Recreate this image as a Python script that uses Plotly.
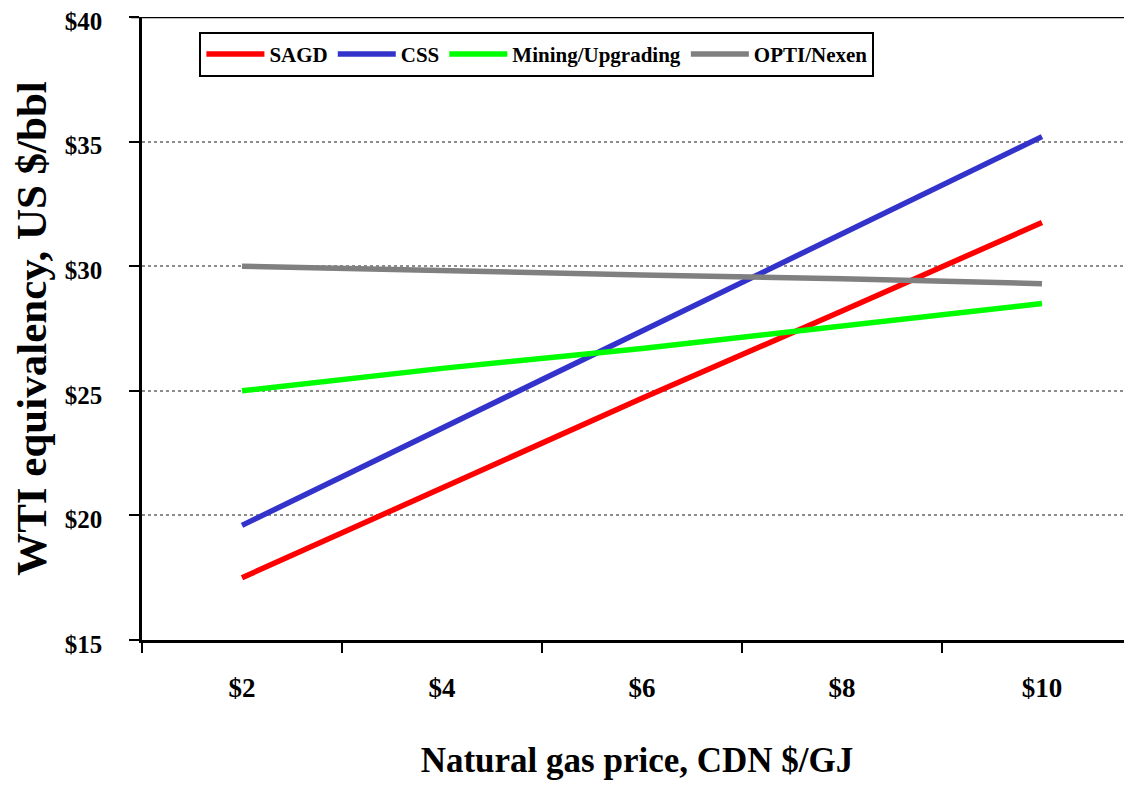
import plotly.graph_objects as go

categories = ["$2", "$4", "$6", "$8", "$10"]
sagd = [17.5, 21.1, 24.7, 28.2, 31.75]
css = [19.6, 23.5, 27.4, 31.3, 35.2]
mining = [25.0, 25.9, 26.7, 27.6, 28.5]
opti = [30.0, 29.8, 29.65, 29.5, 29.3]

series = [
    ("SAGD", sagd, "#FF0000"),
    ("CSS", css, "#3333CC"),
    ("Mining/Upgrading", mining, "#00FF00"),
    ("OPTI/Nexen", opti, "#808080"),
]

y_ticks = [15, 20, 25, 30, 35, 40]
y_ticktext = ["$15", "$20", "$25", "$30", "$35", "$40"]

FONT = "Liberation Serif"

fig = go.Figure()
for name, vals, color in series:
    fig.add_trace(go.Scatter(
        x=categories, y=vals, name=name, mode="lines",
        line=dict(color=color, width=5.5),
    ))

fig.update_layout(
    width=1124, height=778,
    margin=dict(l=134, r=0, t=9, b=146, autoexpand=False),
    paper_bgcolor="white", plot_bgcolor="white",
    font=dict(family=FONT, color="black"),
    showlegend=True,
    legend=dict(
        orientation="h", x=0.058, y=0.976, xanchor="left", yanchor="top",
        bordercolor="black", borderwidth=2, bgcolor="white",
        font=dict(family=FONT, size=21, color="black", weight="bold"),
        itemwidth=58, tracegroupgap=0,
    ),
)

fig.update_xaxes(
    type="category", range=[-0.5, 4.45], automargin=False,
    showline=True, linecolor="black", linewidth=2.5,
    ticks="outside", tickson="boundaries", ticklen=10, tickwidth=1.5, tickcolor="black",
    ticklabelstandoff=22,
    tickfont=dict(family=FONT, size=27, color="black", weight="bold"),
    showgrid=False, zeroline=False,
    title=dict(text="Natural gas price, CDN $/GJ", standoff=46,
               font=dict(family=FONT, size=35, color="black", weight="bold")),
)

fig.update_yaxes(
    range=[15, 40], tickvals=y_ticks, ticktext=y_ticktext, automargin=False,
    showline=True, linecolor="black", linewidth=2.5,
    ticks="outside", ticklen=10, tickwidth=1.5, tickcolor="black",
    ticklabelstandoff=22, ticklabeloverflow="allow", ticklabelshift=4,
    tickfont=dict(family=FONT, size=25, color="black", weight="bold"),
    showgrid=True, gridcolor="#8C8C8C", gridwidth=2, griddash="dot",
    zeroline=False,
    title=dict(text="WTI equivalency, US $/bbl", standoff=14,
               font=dict(family=FONT, size=43, color="black", weight="bold")),
)

fig.add_shape(type="line", xref="paper", yref="y", x0=-0.011, x1=1, y0=40, y1=40,
              line=dict(color="black", width=2.5), layer="above")

fig.write_html("out.html")
